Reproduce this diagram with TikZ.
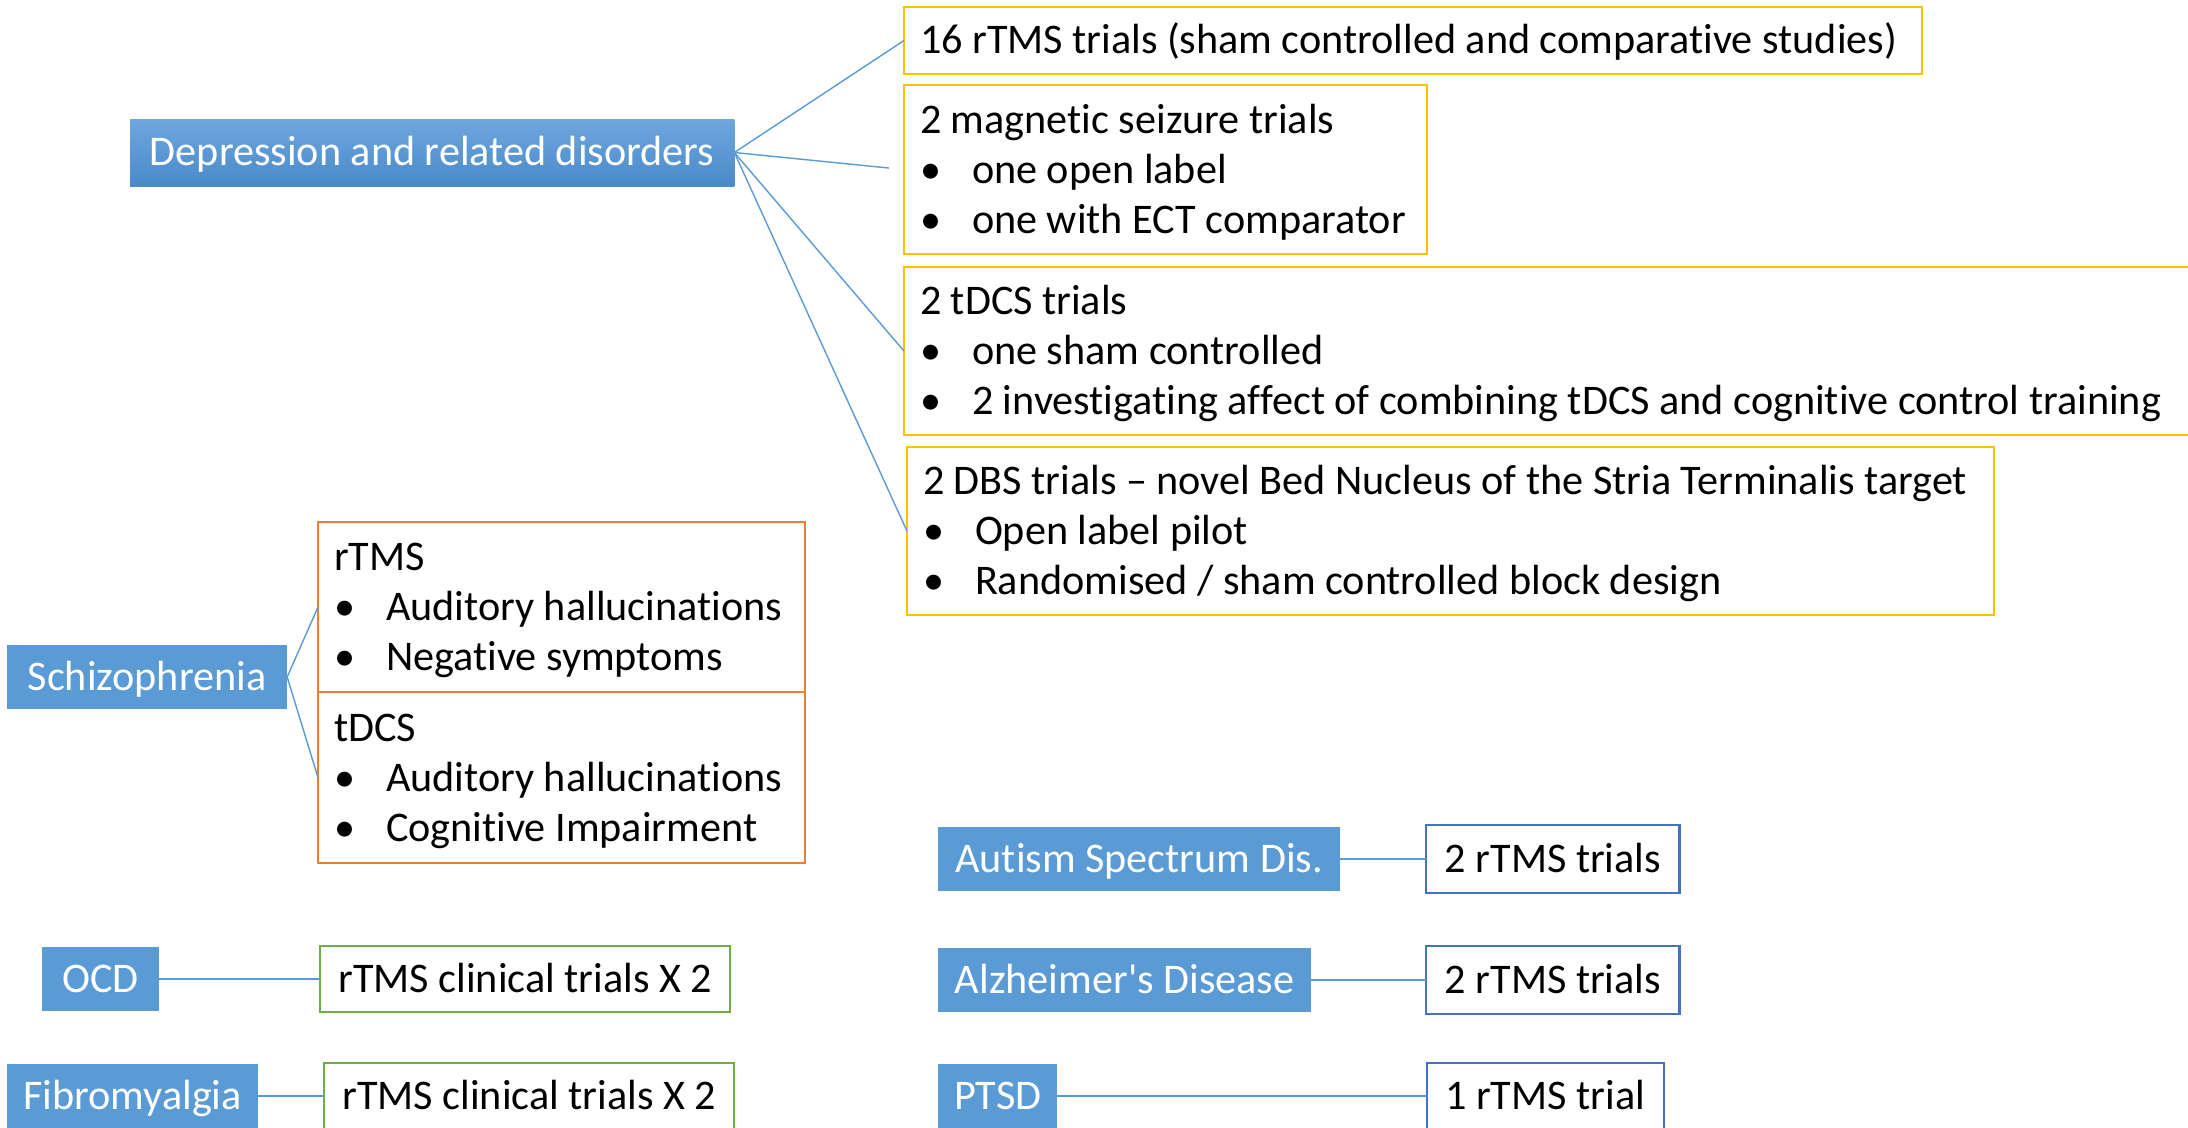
\documentclass[tikz,border=0pt]{standalone}
\usepackage{fontspec}
\setmainfont{Carlito}[Ligatures={NoCommon}]
\usetikzlibrary{positioning}
\definecolor{condfill}{HTML}{5B9BD5}
\definecolor{condtop}{HTML}{6EA7DD}
\definecolor{condbot}{HTML}{4A89CA}
\definecolor{yellowline}{HTML}{FFC000}
\definecolor{orangeline}{HTML}{ED7D31}
\definecolor{greenline}{HTML}{70AD47}
\definecolor{blueline}{HTML}{4472C4}
\definecolor{linkblue}{HTML}{5B9BD5}
\tikzset{
  every node/.style={
    font=\fontsize{12}{14.2}\selectfont,
    inner xsep=0.16cm, inner ysep=0pt, outer sep=0pt, align=left
  },
  oneline/.style={text height=0.267cm, text depth=0pt, align=center},
  condition/.style={oneline, fill=condfill, text=white},
  trialbox/.style={draw=#1, fill=white, line width=0.6pt},
  link/.style={draw=linkblue, line width=0.4pt},
  link bold/.style={draw=linkblue, line width=0.6pt},
}
% one line of a box, never broken, with the font's own word spaces
\newcommand{\hd}[1]{\mbox{\spaceskip=0pt\xspaceskip=0pt\strut#1}}
\newcommand{\itm}[1]{\mbox{\spaceskip=0pt\xspaceskip=0pt\makebox[0.52cm][l]{\textbullet}#1}}

\begin{document}
\begin{tikzpicture}[x=0.01cm, y=-0.01cm]
  \useasboundingbox (0,0) rectangle (2188,1127);

  % depression and its trials
  \node[condition, shading=axis, top color=condtop, bottom color=condbot,
        anchor=north west, minimum width=6.04cm, minimum height=0.67cm]
        (dep) at (130,119) {Depression and related disorders};

  \node[trialbox=yellowline, oneline, align=left, anchor=north west,
        text width=9.85cm, minimum height=0.67cm]
        (deprtms) at (904,7) {\hd{16 rTMS trials (sham controlled and comparative studies)}};
  \node[trialbox=yellowline, anchor=north west, text width=4.91cm, minimum height=1.69cm]
        (depmst) at (904,85)
        {\hd{2 magnetic seizure trials}\\ \itm{one open label}\\ \itm{one with ECT comparator}};
  \node[trialbox=yellowline, anchor=north west, text width=13.18cm, minimum height=1.68cm]
        (deptdcs) at (904,267)
        {\hd{2 tDCS trials}\\ \itm{one sham controlled}\\
         \itm{2 investigating affect of combining tDCS and cognitive control training}};
  \node[trialbox=yellowline, anchor=north west, text width=10.54cm, minimum height=1.68cm]
        (depdbs) at (907,447)
        {\hd{2 DBS trials – novel Bed Nucleus of the Stria Terminalis target}\\
         \itm{Open label pilot}\\ \itm{Randomised / sham controlled block design}};

  \path (dep.east) edge[link] (deprtms.west)
        (dep.east) edge[link, shorten >=0.15cm] (depmst.west)
        (dep.east) edge[link] (deptdcs.west)
        (dep.east) edge[link] (depdbs.west);

  % schizophrenia
  \node[condition, anchor=north west, minimum width=2.80cm, minimum height=0.64cm]
        (scz) at (7,645) {Schizophrenia};
  \node[trialbox=orangeline, anchor=north west, text width=4.55cm, minimum height=1.70cm]
        (sczrtms) at (318,522)
        {\hd{rTMS}\\ \itm{Auditory hallucinations}\\ \itm{Negative symptoms}};
  \node[trialbox=orangeline, anchor=north west, text width=4.55cm, minimum height=1.71cm]
        (scztdcs) at (318,692)
        {\hd{tDCS}\\ \itm{Auditory hallucinations}\\ \itm{Cognitive Impairment}};

  \path (scz.east) edge[link] (sczrtms.west)
        (scz.east) edge[link] (scztdcs.west);

  % single trial groups
  \node[condition, anchor=north west, minimum width=1.17cm, minimum height=0.64cm]
        (ocd) at (42,947) {OCD};
  \node[trialbox=greenline, oneline, right=1.61cm of ocd,
        minimum width=4.10cm, minimum height=0.66cm] (ocdtr) {rTMS clinical trials X 2};

  \node[condition, anchor=north west, minimum width=2.51cm, minimum height=0.64cm]
        (fib) at (7,1064) {Fibromyalgia};
  \node[trialbox=greenline, oneline, right=0.66cm of fib,
        minimum width=4.10cm, minimum height=0.66cm] (fibtr) {rTMS clinical trials X 2};

  \node[condition, anchor=north west, minimum width=4.02cm, minimum height=0.64cm]
        (asd) at (938,827) {Autism Spectrum Dis.};
  \node[trialbox=blueline, oneline, right=0.86cm of asd,
        minimum width=2.53cm, minimum height=0.68cm] (asdtr) {2 rTMS trials};

  \node[condition, anchor=north west, minimum width=3.73cm, minimum height=0.64cm]
        (alz) at (938,948) {Alzheimer\textquotesingle s Disease};
  \node[trialbox=blueline, oneline, right=1.15cm of alz,
        minimum width=2.53cm, minimum height=0.68cm] (alztr) {2 rTMS trials};

  \node[condition, anchor=north west, minimum width=1.19cm, minimum height=0.64cm]
        (ptsd) at (938,1064) {PTSD};
  \node[trialbox=blueline, oneline, right=3.69cm of ptsd,
        minimum width=2.37cm, minimum height=0.66cm] (ptsdtr) {1 rTMS trial};

  \path (ocd) edge[link bold] (ocdtr)
        (fib) edge[link bold] (fibtr)
        (asd) edge[link bold] (asdtr)
        (alz) edge[link bold] (alztr)
        (ptsd) edge[link bold] (ptsdtr);
\end{tikzpicture}
\end{document}
